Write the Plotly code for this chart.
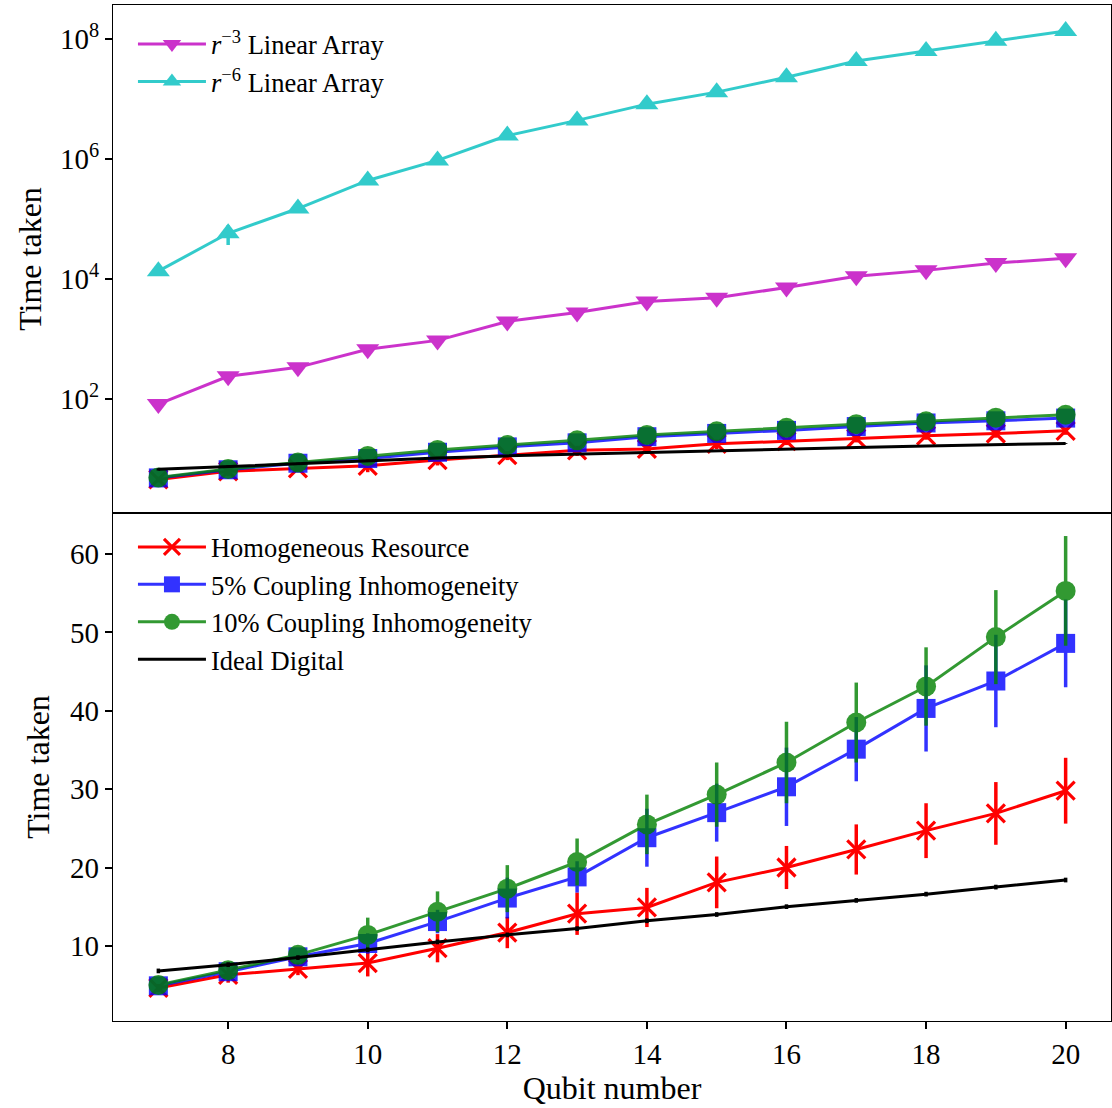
import plotly.graph_objects as go
from plotly.subplots import make_subplots

qubits = list(range(7, 21))

r3_linear = [83, 241, 340, 678, 955, 1977, 2790, 4250, 4900, 7240, 11200, 14000, 18500, 22300]
r3_err = [5, 30, 25, 40, 60, 120, 150, 250, 280, 400, 600, 700, 900, 1100]
r6_linear = [1.36e4, 5.8e4, 1.5e5, 4.4e5, 9.5e5, 2.46e6, 4.4e6, 8.2e6, 1.3e7, 2.3e7, 4.3e7, 6.3e7, 9.3e7, 1.36e8]
r6_err = [1.5e3, 2.1e4, 1.5e4, 3e4, 6e4, 1.5e5, 2.5e5, 4e5, 6e5, 1e6, 2e6, 3e6, 4e6, 6e6]

homog = [4.63, 6.3, 7.06, 7.8, 9.7, 11.7, 14.1, 14.9, 18.1, 20.0, 22.3, 24.7, 26.9, 29.8]
homog_err = [0.5, 1.0, 0.8, 1.7, 1.8, 2.0, 2.7, 2.5, 3.3, 2.75, 3.2, 3.5, 4.0, 4.2]
inhom5 = [4.9, 6.7, 8.6, 10.3, 13.1, 16.1, 18.8, 23.8, 27.0, 30.3, 35.1, 40.3, 43.8, 48.6]
inhom5_err = [0.6, 0.9, 1.0, 1.3, 1.5, 2.6, 2.0, 3.7, 3.7, 5.0, 4.1, 5.5, 5.9, 5.6]
inhom10 = [5.0, 6.9, 8.85, 11.4, 14.35, 17.3, 20.7, 25.5, 29.3, 33.4, 38.5, 43.1, 49.4, 55.3]
inhom10_err = [0.6, 1.0, 1.0, 2.2, 2.6, 3.0, 3.0, 3.8, 4.1, 5.2, 5.1, 5.0, 6.0, 7.0]
ideal = [6.8, 7.6, 8.5, 9.5, 10.5, 11.4, 12.2, 13.2, 14.0, 15.0, 15.8, 16.6, 17.5, 18.4]
ideal_err = [0.3] * 14

FONT = "Liberation Serif"

fig = make_subplots(rows=2, cols=1, shared_xaxes=True, vertical_spacing=0)


def add(row, y, err, name, color, symbol, size, opacity, legend, showlegend):
    marker = dict(color=color, symbol=symbol, size=size)
    if symbol == "x-thin":
        marker["line"] = dict(color=color, width=3.2)
    fig.add_trace(go.Scatter(
        x=qubits, y=y, name=name, mode="lines+markers" if symbol else "lines",
        line=dict(color=color, width=3), marker=marker, opacity=opacity,
        error_y=dict(type="data", array=err, color=color, thickness=3.5, width=0),
        legend=legend, showlegend=showlegend, hoverinfo="skip"), row=row, col=1)


add(1, r3_linear, r3_err, "<i>r</i><sup>−3</sup> Linear Array", "#bf00bf", "triangle-down", 20, 0.8, "legend", True)
add(1, r6_linear, r6_err, "<i>r</i><sup>−6</sup> Linear Array", "#00bfbf", "triangle-up", 20, 0.8, "legend", True)

for row in (1, 2):
    lg = "legend2"
    show = row == 2
    add(row, homog, homog_err, "Homogeneous Resource", "#ff0000", "x-thin", 18, 1.0, lg, show)
    add(row, inhom5, inhom5_err, "5% Coupling Inhomogeneity", "#0000ff", "square", 19, 0.8, lg, show)
    add(row, inhom10, inhom10_err, "10% Coupling Inhomogeneity", "#008000", "circle", 20, 0.8, lg, show)
    add(row, ideal, ideal_err, "Ideal Digital", "#000000", None, 0, 1.0, lg, show)

axis_common = dict(showline=True, linecolor="black", linewidth=1.3, mirror=True,
                   showgrid=False, zeroline=False, ticks="outside", ticklen=7,
                   tickwidth=1.5, tickcolor="black", automargin=False,
                   tickfont=dict(family=FONT, size=29, color="black"))

fig.update_xaxes(**axis_common)
fig.update_yaxes(**axis_common)

TITLE_FONT = dict(family=FONT, size=32, color="black")

fig.update_xaxes(range=[6.35, 20.65], row=1, col=1, ticks="", showticklabels=False)
fig.update_xaxes(range=[6.35, 20.65], row=2, col=1, tickvals=[8, 10, 12, 14, 16, 18, 20],
                 title=dict(text="Qubit number", font=TITLE_FONT, standoff=4))
fig.update_yaxes(type="log", range=[0.106, 8.565], row=1, col=1,
                 tickvals=[1e2, 1e4, 1e6, 1e8],
                 ticktext=["10<sup>2</sup>", "10<sup>4</sup>", "10<sup>6</sup>", "10<sup>8</sup>"],
                 title=dict(text="Time taken", font=TITLE_FONT, standoff=8))
fig.update_yaxes(range=[0.41, 65.24], row=2, col=1, tickvals=[10, 20, 30, 40, 50, 60],
                 title=dict(text="Time taken", font=TITLE_FONT, standoff=10))

fig.update_layout(
    width=1112, height=1108,
    margin=dict(l=113, r=1, t=5, b=87),
    paper_bgcolor="white", plot_bgcolor="white",
    font=dict(family=FONT, color="black"),
    legend=dict(x=0.02, y=0.985, xanchor="left", yanchor="top", bgcolor="rgba(0,0,0,0)",
                font=dict(family=FONT, size=26.5, color="black"), tracegroupgap=4, itemwidth=68),
    legend2=dict(x=0.02, y=0.490, xanchor="left", yanchor="top", bgcolor="rgba(0,0,0,0)",
                 font=dict(family=FONT, size=26.5, color="black"), tracegroupgap=0, itemwidth=68),
)

fig.write_html("out.html", config={"displayModeBar": False},
               post_script="document.body.style.margin='0';document.body.style.overflow='hidden';")
